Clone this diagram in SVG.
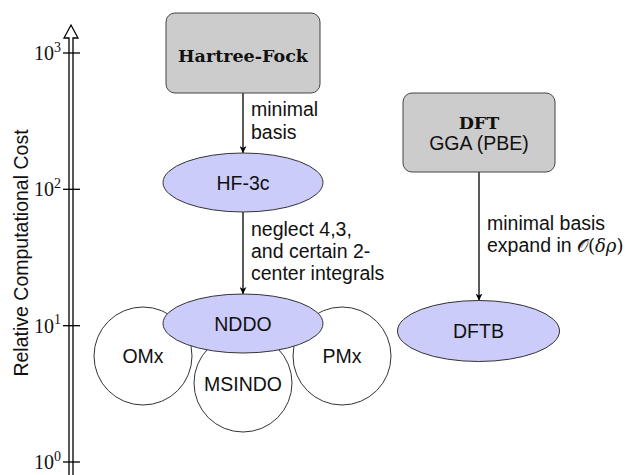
<svg xmlns="http://www.w3.org/2000/svg" width="631" height="475" viewBox="0 0 631 475">
<defs>
<style>
.sans{font-family:"Liberation Sans",Arial,sans-serif;font-size:19.5px;fill:#111}
.serif{font-family:"Liberation Serif","Times New Roman",serif;font-size:20px;fill:#111}
.bold{font-family:"DejaVu Serif",serif;font-weight:bold;font-size:17.5px;fill:#111}
.box{fill:#cccccc;stroke:#444;stroke-width:1}
.ell{fill:#ccccfa;stroke:#333;stroke-width:1}
.circ{fill:#fff;stroke:#333;stroke-width:1}
.conn{stroke:#000;stroke-width:1.3;fill:none}
.tick{stroke:#000;stroke-width:1.3}
</style>
<marker id="arr" viewBox="0 0 10 10" refX="10" refY="5" markerWidth="7" markerHeight="7" markerUnits="userSpaceOnUse" orient="auto">
<path d="M0,0 L10,5 L0,10 L3,5 Z" fill="#000"/>
</marker>
</defs>
<rect width="631" height="475" fill="#fff"/>

<g id="axis">
<path d="M69,476 V38 H64 L71,25 L78,38 H73 V476" fill="#fff" stroke="#000" stroke-width="1.3"/>
<line class="tick" x1="63" y1="53" x2="80" y2="53"/>
<line class="tick" x1="63" y1="189.3" x2="80" y2="189.3"/>
<line class="tick" x1="63" y1="325.7" x2="80" y2="325.7"/>
<line class="tick" x1="63" y1="462" x2="80" y2="462"/>
<text class="serif" x="61" y="60" text-anchor="end">10<tspan font-size="14" dy="-8.5">3</tspan></text>
<text class="serif" x="61" y="196.3" text-anchor="end">10<tspan font-size="14" dy="-8.5">2</tspan></text>
<text class="serif" x="61" y="332.7" text-anchor="end">10<tspan font-size="14" dy="-8.5">1</tspan></text>
<text class="serif" x="61" y="469" text-anchor="end">10<tspan font-size="14" dy="-8.5">0</tspan></text>
<text class="sans" transform="translate(28,253) rotate(-90)" text-anchor="middle" font-size="20">Relative Computational Cost</text>
</g>

<g id="connectors">
<line class="conn" x1="243" y1="93" x2="243" y2="153" marker-end="url(#arr)"/>
<line class="conn" x1="243" y1="211" x2="243" y2="294" marker-end="url(#arr)"/>
<line class="conn" x1="479" y1="172" x2="479" y2="300.5" marker-end="url(#arr)"/>
<text class="sans" x="251" y="116">minimal</text>
<text class="sans" x="251" y="138.5">basis</text>
<text class="sans" x="251" y="235.5">neglect 4,3,</text>
<text class="sans" x="251" y="257.5">and certain 2-</text>
<text class="sans" x="251" y="279.5">center integrals</text>
<text class="sans" x="487" y="230">minimal basis</text>
<text class="sans" x="487" y="252">expand in <tspan font-family="'DejaVu Serif',serif" font-size="18">𝒪(<tspan font-style="italic">δρ</tspan>)</tspan></text>
</g>

<g id="hartree-fock">
<rect class="box" x="166" y="13" width="154" height="80" rx="9"/>
<text class="bold" x="243" y="61.5" text-anchor="middle">Hartree-Fock</text>
</g>

<g id="hf-3c">
<ellipse class="ell" cx="243" cy="182.5" rx="80" ry="29.5"/>
<text class="sans" x="243" y="189.5" text-anchor="middle">HF-3c</text>
</g>

<g id="omx">
<circle class="circ" cx="143" cy="356" r="49"/>
<text class="sans" x="143" y="363" text-anchor="middle">OMx</text>
</g>

<g id="pmx">
<circle class="circ" cx="342" cy="356" r="49"/>
<text class="sans" x="342" y="363" text-anchor="middle">PMx</text>
</g>

<g id="msindo">
<circle class="circ" cx="243" cy="383" r="49"/>
<text class="sans" x="243" y="391" text-anchor="middle">MSINDO</text>
</g>

<g id="nddo">
<ellipse class="ell" cx="243" cy="323.5" rx="80" ry="29.5"/>
<text class="sans" x="243" y="330.5" text-anchor="middle">NDDO</text>
</g>

<g id="dft">
<rect class="box" x="403" y="93" width="152" height="79" rx="9"/>
<text class="bold" x="479" y="129" text-anchor="middle">DFT</text>
<text class="sans" x="479" y="150" text-anchor="middle">GGA (PBE)</text>
</g>

<g id="dftb">
<ellipse class="ell" cx="478.5" cy="331" rx="81" ry="30.5"/>
<text class="sans" x="478.5" y="338" text-anchor="middle">DFTB</text>
</g>
</svg>
